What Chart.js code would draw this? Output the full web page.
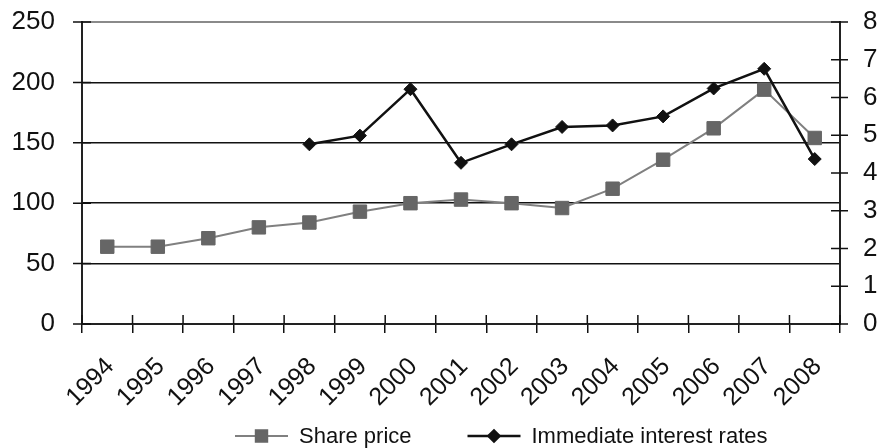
<!DOCTYPE html>
<html>
<head>
<meta charset="utf-8">
<script src="https://cdn.jsdelivr.net/npm/chart.js@4.4.1/dist/chart.umd.min.js"></script>
<style>
  html, body { margin: 0; padding: 0; background: #ffffff; }
  #wrap { width: 881px; height: 448px; }
</style>
</head>
<body>
<div id="wrap"><canvas id="chart" width="881" height="448"></canvas></div>
<script>
// Years on the category axis
const years = ['1994', '1995', '1996', '1997', '1998', '1999', '2000', '2001',
               '2002', '2003', '2004', '2005', '2006', '2007', '2008'];
// Share price index (left axis)
const sharePrice = [64, 64, 71, 80, 84, 93, 100, 103, 100, 96, 112, 136, 162, 194, 154];
// Immediate interest rates, % (right axis); no data before 1998
const interestRates = [null, null, null, null, 4.76, 4.99, 6.22, 4.27, 4.76, 5.22, 5.26, 5.5, 6.24, 6.76, 4.37];
// Axis ticks
const leftTicks = [0, 50, 100, 150, 200, 250];
const rightTicks = [0, 1, 2, 3, 4, 5, 6, 7, 8];

const FONT = 'Liberation Sans, Arial, sans-serif';
const INK = '#111111';
const CLEAR = 'rgba(0,0,0,0)';

// Tick marks that cross the axis lines
const crossTicks = {
  id: 'crossTicks',
  afterDraw(chart) {
    const { ctx, chartArea: a, scales } = chart;
    ctx.save();
    ctx.strokeStyle = INK;
    ctx.lineWidth = 1.5;
    ctx.beginPath();
    // x axis: Chart.js draws the outer half, add the inner half
    for (let i = 0; i <= years.length; i++) {
      const px = scales.x.getPixelForValue(i - 0.5);
      ctx.moveTo(px, a.bottom);
      ctx.lineTo(px, a.bottom - 9);
    }
    leftTicks.forEach(v => {
      const py = scales.y.getPixelForValue(v);
      ctx.moveTo(a.left - 9, py);
      ctx.lineTo(a.left + 9, py);
    });
    rightTicks.forEach(v => {
      const py = scales.y1.getPixelForValue(v);
      ctx.moveTo(a.right - 9, py);
      ctx.lineTo(a.right + 8, py);
    });
    ctx.stroke();
    ctx.restore();
  }
};

// Legend entries drawn as a line segment with the series marker in the middle
const lineLegend = {
  id: 'lineLegend',
  afterDraw(chart) {
    const ctx = chart.ctx;
    const y = 436;
    const lineLen = 53, gap = 11, itemGap = 56;
    ctx.save();
    ctx.font = '22px ' + FONT;
    ctx.textBaseline = 'middle';
    ctx.textAlign = 'left';
    let x = 235;
    chart.data.datasets.forEach(ds => {
      ctx.strokeStyle = ds.borderColor;
      ctx.lineWidth = ds.borderWidth;
      ctx.beginPath();
      ctx.moveTo(x, y);
      ctx.lineTo(x + lineLen, y);
      ctx.stroke();
      ctx.fillStyle = ds.pointBackgroundColor;
      ctx.strokeStyle = ds.pointBorderColor;
      Chart.helpers.drawPoint(ctx, {
        pointStyle: ds.pointStyle,
        radius: ds.pointRadius * 0.85,
        rotation: 0,
        borderWidth: 1
      }, x + lineLen / 2, y);
      ctx.fillStyle = INK;
      ctx.fillText(ds.label, x + lineLen + gap, y + 1);
      x += lineLen + gap + ctx.measureText(ds.label).width + itemGap;
    });
    ctx.restore();
  }
};

new Chart(document.getElementById('chart'), {
  type: 'line',
  data: {
    labels: years,
    datasets: [
      {
        label: 'Share price',
        data: sharePrice,
        yAxisID: 'y',
        borderColor: '#808080',
        borderWidth: 2,
        pointStyle: 'rect',
        pointRadius: 9.5,
        pointBackgroundColor: '#666666',
        pointBorderColor: '#666666',
        pointBorderWidth: 1,
        tension: 0,
        order: 1
      },
      {
        label: 'Immediate interest rates',
        data: interestRates,
        yAxisID: 'y1',
        borderColor: '#111111',
        borderWidth: 2.5,
        pointStyle: 'rectRot',
        pointRadius: 6.5,
        pointBackgroundColor: '#111111',
        pointBorderColor: '#111111',
        pointBorderWidth: 1,
        tension: 0,
        spanGaps: false,
        order: 0
      }
    ]
  },
  options: {
    responsive: false,
    animation: false,
    devicePixelRatio: 1,
    layout: { padding: { top: 22, right: 0, bottom: 30, left: 0 } },
    plugins: {
      legend: { display: false },
      tooltip: { enabled: false }
    },
    scales: {
      x: {
        type: 'category',
        offset: true,
        grid: {
          offset: true,
          drawOnChartArea: false,
          color: INK,
          lineWidth: 1.5,
          tickLength: 9
        },
        border: { color: '#222222', width: 2 },
        ticks: {
          autoSkip: false,
          minRotation: 45,
          maxRotation: 45,
          padding: 19,
          labelOffset: 3,
          color: INK,
          font: { family: FONT, size: 25 }
        },
        afterFit(scale) { scale.height = 94; }
      },
      y: {
        position: 'left',
        min: leftTicks[0],
        max: leftTicks[leftTicks.length - 1],
        ticks: {
          stepSize: 50,
          padding: 3,
          color: INK,
          font: { family: FONT, size: 26 }
        },
        grid: {
          color: ctx => (ctx.tick && ctx.tick.value === 250 ? '#8a8a8a' : INK),
          lineWidth: ctx => (ctx.tick && ctx.tick.value === 250 ? 2 : 1.5),
          tickColor: CLEAR,
          tickLength: 24
        },
        border: { color: '#222222', width: 2 },
        afterFit(scale) { scale.width = 82; }
      },
      y1: {
        position: 'right',
        min: rightTicks[0],
        max: rightTicks[rightTicks.length - 1],
        ticks: {
          stepSize: 1,
          padding: 3,
          color: INK,
          font: { family: FONT, size: 26 }
        },
        grid: {
          drawOnChartArea: false,
          tickColor: CLEAR,
          color: CLEAR,
          tickLength: 20
        },
        border: { color: '#222222', width: 2 },
        afterFit(scale) { scale.width = 41; }
      }
    }
  },
  plugins: [crossTicks, lineLegend]
});
</script>
</body>
</html>
